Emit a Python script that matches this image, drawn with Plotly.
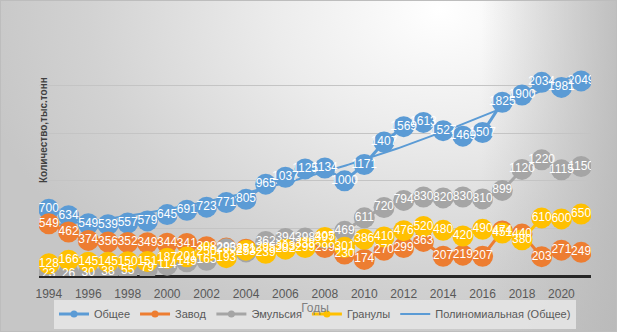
import base64
import numpy as np
import plotly.graph_objects as go

# ---- data (тыс. тонн) ----
years = list(range(1994, 2022))
total = [700, 634, 549, 539, 557, 579, 645, 691, 723, 771, 805, 965, 1037, 1125,
         1134, 1000, 1171, 1407, 1569, 1613, 1527, 1469, 1507, 1825, 1900, 2034, 1981, 2049]
plant = [549, 462, 374, 356, 352, 349, 344, 341, 308, 293, 281, 295, 303, 338,
         299, 230, 174, 270, 299, 363, 207, 219, 207, 474, 440, 203, 271, 249]
emulsion = [23, 26, 30, 38, 55, 79, 114, 149, 165, 285, 253, 362, 394, 398,
            397, 469, 611, 720, 794, 830, 820, 830, 810, 899, 1120, 1220, 1115, 1150]
granules = [128, 166, 145, 145, 150, 151, 187, 201, 250, 193, 271, 239, 282, 299,
            405, 301, 386, 410, 476, 520, 480, 420, 490, 451, 380, 610, 600, 650]
x_ticks = list(range(1994, 2021, 2))

series = [
    ("Общее", total, "#5B9BD5"),
    ("Завод", plant, "#ED7D31"),
    ("Эмульсия", emulsion, "#A5A5A5"),
    ("Гранулы", granules, "#FFC000"),
]
trend_name = "Полиномиальная (Общее)"

# second-order polynomial trend of the total
coef = np.polyfit(years, total, 2)
tx = np.linspace(years[0], years[-1], 200)
ty = np.polyval(coef, tx)

W, H = 617, 332
ML, MR, MT, MB = 39, 26, 38, 56
PW, PH = W - ML - MR, H - MT - MB

LABEL_FONT = "Liberation Sans Narrow, Arial Narrow, Liberation Sans, Arial"
TEXT_FONT = "Liberation Sans, Arial, sans-serif"

# soft gray-to-white chart background
svg = f'''<svg xmlns="http://www.w3.org/2000/svg" width="{W}" height="{H}" viewBox="0 0 {W} {H}" preserveAspectRatio="none">
<defs>
<radialGradient id="g" gradientUnits="userSpaceOnUse" cx="440" cy="10" r="470"
 gradientTransform="translate(440 10) scale(1 0.75) translate(-440 -10)">
<stop offset="0" stop-color="#ffffff"/>
<stop offset="0.35" stop-color="#ececec"/>
<stop offset="0.75" stop-color="#d2d2d2"/>
<stop offset="1" stop-color="#c6c6c6"/>
</radialGradient>
<linearGradient id="r" x1="0" y1="0" x2="1" y2="0">
<stop offset="0.78" stop-color="#b8b8b8" stop-opacity="0"/>
<stop offset="1" stop-color="#b8b8b8" stop-opacity="0.85"/>
</linearGradient>
</defs>
<rect width="{W}" height="{H}" fill="url(#g)"/>
<rect width="{W}" height="{H}" fill="url(#r)"/>
<rect x="0.5" y="0.5" width="{W-1}" height="{H-1}" fill="none" stroke="#bdbdbd"/>
</svg>'''
bg_uri = "data:image/svg+xml;base64," + base64.b64encode(svg.encode()).decode()

fig = go.Figure()

# trend line underneath the markers
fig.add_trace(go.Scatter(x=tx, y=ty, mode="lines", line=dict(color="#5B9BD5", width=2),
                         showlegend=False, hoverinfo="skip"))

for name, vals, col in series:
    fig.add_trace(go.Scatter(x=years, y=vals, mode="lines+markers", name=name,
                             line=dict(color=col, width=3),
                             marker=dict(size=21, color=col),
                             showlegend=False))

# value labels on top of all markers
for name, vals, col in series:
    fig.add_trace(go.Scatter(x=years, y=vals, mode="text", text=[str(v) for v in vals],
                             textposition="middle center",
                             textfont=dict(color="white", size=12, family=LABEL_FONT),
                             showlegend=False, hoverinfo="skip"))

# legend entries
for name, vals, col in series:
    fig.add_trace(go.Scatter(x=[None], y=[None], mode="lines+markers", name=name,
                             line=dict(color=col, width=3), marker=dict(size=7, color=col)))
fig.add_trace(go.Scatter(x=[None], y=[None], mode="lines", name=trend_name,
                         line=dict(color="#5B9BD5", width=2)))

fig.update_layout(
    width=W, height=H,
    margin=dict(l=ML, r=MR, t=MT, b=MB, pad=0, autoexpand=False),
    paper_bgcolor="rgba(0,0,0,0)", plot_bgcolor="rgba(0,0,0,0)",
    font=dict(family=TEXT_FONT, color="#595959", size=12),
    showlegend=True,
    legend=dict(orientation="h", x=0.5, xanchor="center",
                y=-(314 - (H - MB)) / PH, yanchor="middle",
                bgcolor="rgba(228,228,228,0.9)", font=dict(size=11, color="#595959"),
                itemwidth=30, tracegroupgap=0),
    images=[dict(source=bg_uri, xref="paper", yref="paper",
                 x=-ML / PW, y=1 + MT / PH, sizex=W / PW, sizey=H / PH,
                 xanchor="left", yanchor="top", sizing="stretch", layer="below")],
    xaxis=dict(range=[1993.5, 2021.5], tickmode="array", tickvals=x_ticks,
               ticktext=[str(t) for t in x_ticks], showgrid=False, zeroline=False,
               showline=False, ticks="", ticklabelstandoff=9, automargin=False,
               tickfont=dict(size=12, color="#595959"),
               title=dict(text="Годы", font=dict(size=12, color="#7f7f7f"), standoff=3)),
    yaxis=dict(range=[0, 2500], tickvals=[0, 500, 1000, 1500, 2000, 2500],
               showticklabels=False, showgrid=True, gridcolor="#c4c4c4", gridwidth=1,
               zeroline=True, zerolinecolor="#262626", zerolinewidth=3, showline=False,
               automargin=False),
    annotations=[dict(text="<b>Количество,тыс.тонн</b>", textangle=-90,
                      xref="paper", yref="paper", x=(43 - ML) / PW, y=(H - MB - 130) / PH,
                      xanchor="center", yanchor="middle", showarrow=False,
                      font=dict(size=10, color="#404040", family=TEXT_FONT))],
)

fig.write_html("out.html")
